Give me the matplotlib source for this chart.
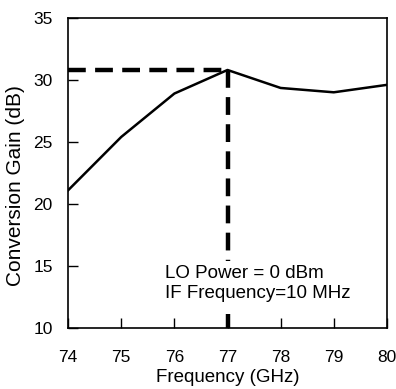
import matplotlib.pyplot as plt
import numpy as np

freq = [74, 75, 76, 77, 78, 79, 80]
gain = [21.1, 25.4, 28.9, 30.8, 29.35, 29.0, 29.6]
peak_freq = 77
peak_gain = 30.8
xticks = [74, 75, 76, 77, 78, 79, 80]
yticks = [10, 15, 20, 25, 30, 35]

plt.rcParams['font.family'] = ['Liberation Sans', 'DejaVu Sans']

fig = plt.figure(figsize=(3.96, 3.89), dpi=100)
ax = fig.add_axes([0.172, 0.157, 0.805, 0.797])

ax.plot(freq, gain, color='black', linewidth=1.8, zorder=3)
# dashed guide lines to the peak
dash = (0, (4.0, 2.1))
ax.plot([74, peak_freq], [peak_gain, peak_gain], color='black', linewidth=3.2,
        linestyle=dash, dash_capstyle='butt', zorder=2)
ax.plot([peak_freq, peak_freq], [peak_gain, 10], color='black', linewidth=3.2,
        linestyle=dash, dash_capstyle='butt', zorder=2)

ax.text(75.83, 13.6, 'LO Power = 0 dBm\nIF Frequency=10 MHz', fontsize=13.5,
        va='center', ha='left', linespacing=1.2, zorder=4,
        bbox=dict(facecolor='white', edgecolor='none', pad=3))

ax.set_xlim(74, 80)
ax.set_ylim(10, 35)
ax.set_xticks(xticks)
ax.set_yticks(yticks)
ax.tick_params(direction='in', length=7, width=1, labelsize=12.5)
ax.tick_params(axis='x', pad=16)
ax.tick_params(axis='y', pad=11)
for s in ax.spines.values():
    s.set_linewidth(1.2)
ax.set_xlabel('Frequency (GHz)', fontsize=13.5, labelpad=3)
ax.set_ylabel('Conversion Gain (dB)', fontsize=15, labelpad=4)
ax.yaxis.set_label_coords(-0.135, 0.46)

plt.savefig('out.png', dpi=100)
